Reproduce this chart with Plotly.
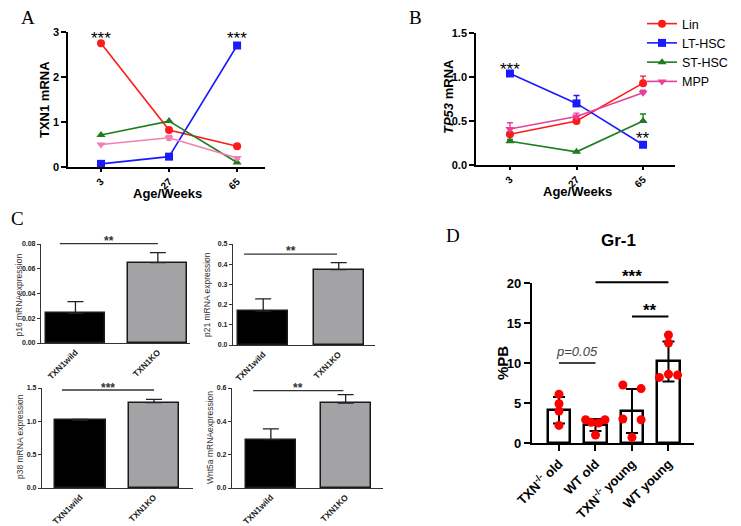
import plotly.graph_objects as go

# Page offset: browser body margin places the figure at (8, 8)
OFF = 8
W, H = 741 - OFF, 526 - OFF

# ---------------- DATA ----------------
ages = ["3", "27", "65"]
series_names = ["Lin", "LT-HSC", "ST-HSC", "MPP"]

# Panel A: TXN1 mRNA
txn1_lin = [2.75, 0.82, 0.46]
txn1_lt = [0.07, 0.23, 2.70]
txn1_st = [0.71, 1.02, 0.10]
txn1_mpp = [0.50, 0.65, 0.20]
txn1_mpp_err = [0.0, 0.05, 0.03]

# Panel B: TP53 mRNA
tp53_lin = [0.35, 0.50, 0.93]
tp53_lin_err = [0.02, 0.03, 0.08]
tp53_lt = [1.04, 0.70, 0.23]
tp53_lt_err = [0.0, 0.09, 0.0]
tp53_st = [0.27, 0.15, 0.50]
tp53_st_err = [0.02, 0.0, 0.08]
tp53_mpp = [0.41, 0.55, 0.82]
tp53_mpp_err = [0.07, 0.04, 0.03]

# Panel C
genotypes = ["TXN1wild", "TXN1KO"]
p16 = [0.024, 0.065]
p16_err = [0.0095, 0.008]
p21 = [0.168, 0.373]
p21_err = [0.06, 0.035]
p38 = [1.02, 1.28]
p38_err = [0.01, 0.05]
wnt5a = [0.29, 0.51]
wnt5a_err = [0.065, 0.05]

# Panel D: Gr-1 %PB
gr1_groups = ["TXN<sup>-/-</sup> old", "WT old", "TXN<sup>-/-</sup> young", "WT young"]
gr1_mean = [4.1, 2.25, 4.0, 10.2]
gr1_sd = [1.65, 0.75, 2.75, 2.5]
gr1_points = [
    [6.1, 4.9, 4.0, 2.2],
    [2.9, 2.6, 2.5, 2.9, 1.0],
    [7.25, 6.8, 3.0, 2.9, 0.7],
    [13.5, 12.5, 8.2, 8.6, 8.5],
]
gr1_jitter = [
    [0, 0, 0, 0],
    [-0.27, -0.12, 0.08, 0.26, 0.0],
    [-0.25, 0.25, -0.25, 0.25, 0.0],
    [0.0, 0.0, -0.25, 0.0, 0.25],
]

# ---------------- LAYOUT GEOMETRY (window pixels) ----------------
PANELS = {
    "A":  dict(ax="", xpx=(68, 265), ypx=(32, 167), xr=(-0.485, 2.41), yr=(0, 3)),
    "B":  dict(ax="2", xpx=(476, 675), ypx=(33, 165), xr=(-0.51, 2.48), yr=(0, 1.5)),
    "C1": dict(ax="3", xpx=(41, 190), ypx=(244, 343), xr=(-0.418, 1.39), yr=(0, 0.08)),
    "C2": dict(ax="4", xpx=(233, 375), ypx=(244, 345), xr=(-0.40, 1.48), yr=(0, 0.5)),
    "C3": dict(ax="5", xpx=(42, 193), ypx=(388, 488), xr=(-0.52, 1.53), yr=(0, 1.5)),
    "C4": dict(ax="6", xpx=(232, 383), ypx=(388, 488), xr=(-0.52, 1.50), yr=(0, 0.6)),
    "D":  dict(ax="7", xpx=(532, 694), ypx=(283, 443), xr=(-0.74, 3.70), yr=(0, 20)),
}


def pxx(p):
    return (p - OFF) / W


def pxy(p):
    return 1 - (p - OFF) / H


def xdom(k):
    a, b = PANELS[k]["xpx"]
    return [pxx(a), pxx(b)]


def ydom(k):
    t, b = PANELS[k]["ypx"]
    return [pxy(b), pxy(t)]


def to_px(k, v):
    d = xdom(k); r = PANELS[k]["xr"]
    return d[0] + (v - r[0]) / (r[1] - r[0]) * (d[1] - d[0])


def to_py(k, v):
    d = ydom(k); r = PANELS[k]["yr"]
    return d[0] + (v - r[0]) / (r[1] - r[0]) * (d[1] - d[0])


SANS = "Liberation Sans, Arial, sans-serif"
SERIF = "Liberation Serif, Times New Roman, serif"

COLORS = {"Lin": "#ff1a1a", "LT-HSC": "#1a1aff", "ST-HSC": "#1f7d1f", "MPP": "#f27fb2"}
COLORS_B = {"Lin": "#ff1a1a", "LT-HSC": "#1a1aff", "ST-HSC": "#1f7d1f", "MPP": "#e8409a"}
SYMBOLS = {"Lin": "circle", "LT-HSC": "square", "ST-HSC": "triangle-up", "MPP": "triangle-down"}

fig = go.Figure()
xs = list(range(len(ages)))

# Panel A
A_series = {"Lin": (txn1_lin, None), "LT-HSC": (txn1_lt, None),
            "ST-HSC": (txn1_st, None), "MPP": (txn1_mpp, txn1_mpp_err)}
for name, (vals, err) in A_series.items():
    tr = dict(x=xs, y=vals, mode="lines+markers", name=name, showlegend=False,
              line=dict(color=COLORS[name], width=1.6),
              marker=dict(symbol=SYMBOLS[name], size=8, color=COLORS[name]),
              xaxis="x", yaxis="y", cliponaxis=False)
    if err is not None:
        tr["error_y"] = dict(type="data", array=err, color=COLORS[name], thickness=1.4, width=3)
    fig.add_trace(go.Scatter(**tr))

# Panel B
B_series = {"Lin": (tp53_lin, tp53_lin_err), "LT-HSC": (tp53_lt, tp53_lt_err),
            "ST-HSC": (tp53_st, tp53_st_err), "MPP": (tp53_mpp, tp53_mpp_err)}
for name, (vals, err) in B_series.items():
    fig.add_trace(go.Scatter(
        x=xs, y=vals, mode="lines+markers", name=name, showlegend=True,
        line=dict(color=COLORS_B[name], width=1.6),
        marker=dict(symbol=SYMBOLS[name], size=8, color=COLORS_B[name]),
        error_y=dict(type="data", symmetric=False, array=err, arrayminus=[0] * len(err),
                     color=COLORS_B[name], thickness=1.4, width=3),
        xaxis="x2", yaxis="y2", cliponaxis=False))

# Panel C
C_data = [("C1", p16, p16_err, 0.715), ("C2", p21, p21_err, 0.66),
          ("C3", p38, p38_err, 0.69), ("C4", wnt5a, wnt5a_err, 0.67)]
for key, vals, err, bw in C_data:
    a = PANELS[key]["ax"]
    fig.add_trace(go.Bar(
        x=[0, 1], y=vals, width=bw, showlegend=False,
        marker=dict(color=["#000000", "#a3a3a6"], line=dict(color="#1a1a1a", width=1.5)),
        error_y=dict(type="data", symmetric=False, array=err, arrayminus=[0, 0],
                     color="#222222", thickness=1.3, width=8),
        xaxis="x" + a, yaxis="y" + a))

# Panel D
fig.add_trace(go.Bar(
    x=list(range(len(gr1_groups))), y=gr1_mean, width=0.62, showlegend=False,
    marker=dict(color="white", line=dict(color="black", width=2.5)),
    error_y=dict(type="data", array=gr1_sd, color="black", thickness=2, width=6),
    xaxis="x7", yaxis="y7"))
px_, py_ = [], []
for i, (pts, jit) in enumerate(zip(gr1_points, gr1_jitter)):
    for v, j in zip(pts, jit):
        px_.append(i + j)
        py_.append(v)
fig.add_trace(go.Scatter(x=px_, y=py_, mode="markers", showlegend=False,
                         marker=dict(color="#ff0000", size=9),
                         xaxis="x7", yaxis="y7", cliponaxis=False))

# ---------------- AXES ----------------
layout = dict(width=W, height=H, margin=dict(l=0, r=0, t=0, b=0, autoexpand=False),
              paper_bgcolor="white", plot_bgcolor="rgba(0,0,0,0)",
              font=dict(family=SANS, color="black"), bargap=0,
              showlegend=True)


def axes(key, xticktext, yticks, ytickfmt, style):
    a = PANELS[key]["ax"]
    p = PANELS[key]
    xname = "xaxis" + a
    yname = "yaxis" + a
    layout[xname] = dict(
        domain=xdom(key), range=list(p["xr"]), anchor="y" + a,
        tickmode="array", tickvals=list(range(len(xticktext))), ticktext=xticktext,
        tickangle=-45, showline=True, linecolor=style["lc"], linewidth=style["lw"],
        ticks=style["xticks"], ticklen=style["xtl"], tickwidth=style["lw"], tickcolor=style["lc"],
        showgrid=False, zeroline=False, fixedrange=True, automargin=False,
        tickfont=dict(size=style["xfs"], family=SANS, color=style["tc"], weight=style["w"]))
    layout[yname] = dict(
        domain=ydom(key), range=list(p["yr"]), anchor="x" + a,
        tickmode="array", tickvals=yticks, ticktext=[ytickfmt.format(t) for t in yticks],
        showline=True, linecolor=style["lc"], linewidth=style["lw"],
        ticks="outside", ticklen=style["tl"], tickwidth=style["lw"], tickcolor=style["lc"],
        showgrid=False, zeroline=False, fixedrange=True, automargin=False,
        tickfont=dict(size=style["yfs"], family=SANS, color=style["tc"], weight=style["w"]))


AB = dict(lc="black", lw=1.6, xticks="outside", tl=5, xtl=3, xfs=10, yfs=11, tc="black", w="bold")
CS = dict(lc="#333333", lw=1.2, xticks="", tl=3, xtl=3, xfs=8.5, yfs=7, tc="#222222", w="bold")
DS = dict(lc="black", lw=2.2, xticks="outside", tl=6, xtl=6, xfs=13, yfs=13, tc="black", w="bold")

axes("A", ages, [0, 1, 2, 3], "{:g}", AB)
axes("B", ages, [0, 0.5, 1.0, 1.5], "{:.1f}", AB)
axes("C1", genotypes, [0, 0.02, 0.04, 0.06, 0.08], "{:.2f}", CS)
axes("C2", genotypes, [0, 0.1, 0.2, 0.3, 0.4, 0.5], "{:.1f}", CS)
axes("C3", genotypes, [0, 0.5, 1.0, 1.5], "{:.1f}", CS)
axes("C4", genotypes, [0, 0.2, 0.4, 0.6], "{:.1f}", CS)
axes("D", gr1_groups, [0, 5, 10, 15, 20], "{:g}", DS)

layout["legend"] = dict(x=pxx(642), y=pxy(9), xanchor="left", yanchor="top",
                        font=dict(size=12.5, family=SANS, color="black"),
                        bgcolor="rgba(0,0,0,0)", tracegroupgap=0, itemwidth=30)

ann = []
shapes = []


def text(xp, yp, s, size, angle=0, weight="normal", family=SANS, color="black", italic=False):
    ann.append(dict(x=pxx(xp), y=pxy(yp), xref="paper", yref="paper", text=s,
                    showarrow=False, textangle=angle, xanchor="center", yanchor="middle",
                    font=dict(size=size, family=family, color=color, weight=weight,
                              style="italic" if italic else "normal")))


# Panel letters
text(28, 18, "A", 19, family=SERIF)
text(415, 18, "B", 19, family=SERIF)
text(17, 218, "C", 19, family=SERIF)
text(453, 235, "D", 19, family=SERIF)

# Axis titles
text(167, 194, "Age/Weeks", 13, weight="bold")
text(577, 192, "Age/Weeks", 13, weight="bold")
text(45, 100, "TXN1 mRNA", 13, angle=-90, weight="bold")
text(448, 97, "<i>TP53</i> mRNA", 13, angle=-90, weight="bold")
text(18.5, 295, "p16 mRNAexpression", 8.5, angle=-90, color="#333333")
text(207, 295, "p21 mRNA expression", 8.5, angle=-90, color="#333333")
text(20, 437, "p38 mRNA expression", 8.5, angle=-90, color="#333333")
text(210, 438, "Wnt5a mRNAexpression", 8.5, angle=-90, color="#333333")
text(502, 363, "%PB", 15, angle=-90, weight="bold")
text(618, 240, "Gr-1", 17, weight="bold")

# Significance marks: (panel, x0, x1, line_y, label, label_y, size, color, italic)
SIG = [
    ("C1", -0.19, 1.0, 0.0803, "**", 0.0848, 12, "#333333", False),
    ("C2", -0.254, 0.977, 0.45, "**", 0.48, 12, "#333333", False),
    ("C3", -0.248, 1.0, 1.47, "***", 1.545, 12, "#333333", False),
    ("C4", -0.238, 0.97, 0.584, "**", 0.62, 12, "#333333", False),
    ("D", 0, 1, 10.0, "p=0.05", 11.4, 13, "#444444", True),
    ("D", 1, 3, 20.1, "***", 21.4, 17, "black", False),
    ("D", 2, 3, 15.8, "**", 17.1, 17, "black", False),
]
for key, x0, x1, yl, lab, yt, size, col, it in SIG:
    lw = 2 if key == "D" else 1.4
    shapes.append(dict(type="line", xref="paper", yref="paper",
                       x0=to_px(key, x0), x1=to_px(key, x1),
                       y0=to_py(key, yl), y1=to_py(key, yl),
                       line=dict(color=col, width=lw)))
    ann.append(dict(x=to_px(key, (x0 + x1) / 2), y=to_py(key, yt), xref="paper", yref="paper",
                    text=lab, showarrow=False, xanchor="center", yanchor="middle",
                    yshift=0 if it else -0.27 * size,
                    font=dict(size=size, family=SANS, color=col,
                              weight="normal" if it else "bold",
                              style="italic" if it else "normal")))

# Star annotations on line charts: (axis suffix, x, y)
STARS = [("", 0, 2.956, "***"), ("", 2, 2.956, "***"), ("2", 0, 1.136, "***"), ("2", 2, 0.35, "**")]
for a, xv, yv, lab in STARS:
    ann.append(dict(x=xv, y=yv, xref="x" + a, yref="y" + a, text=lab, showarrow=False,
                    xanchor="center", yanchor="middle", yshift=-0.27 * 17,
                    font=dict(size=17, family=SANS, color="black")))

layout["annotations"] = ann
layout["shapes"] = shapes
fig.update_layout(**layout)
fig.write_html("out.html")
